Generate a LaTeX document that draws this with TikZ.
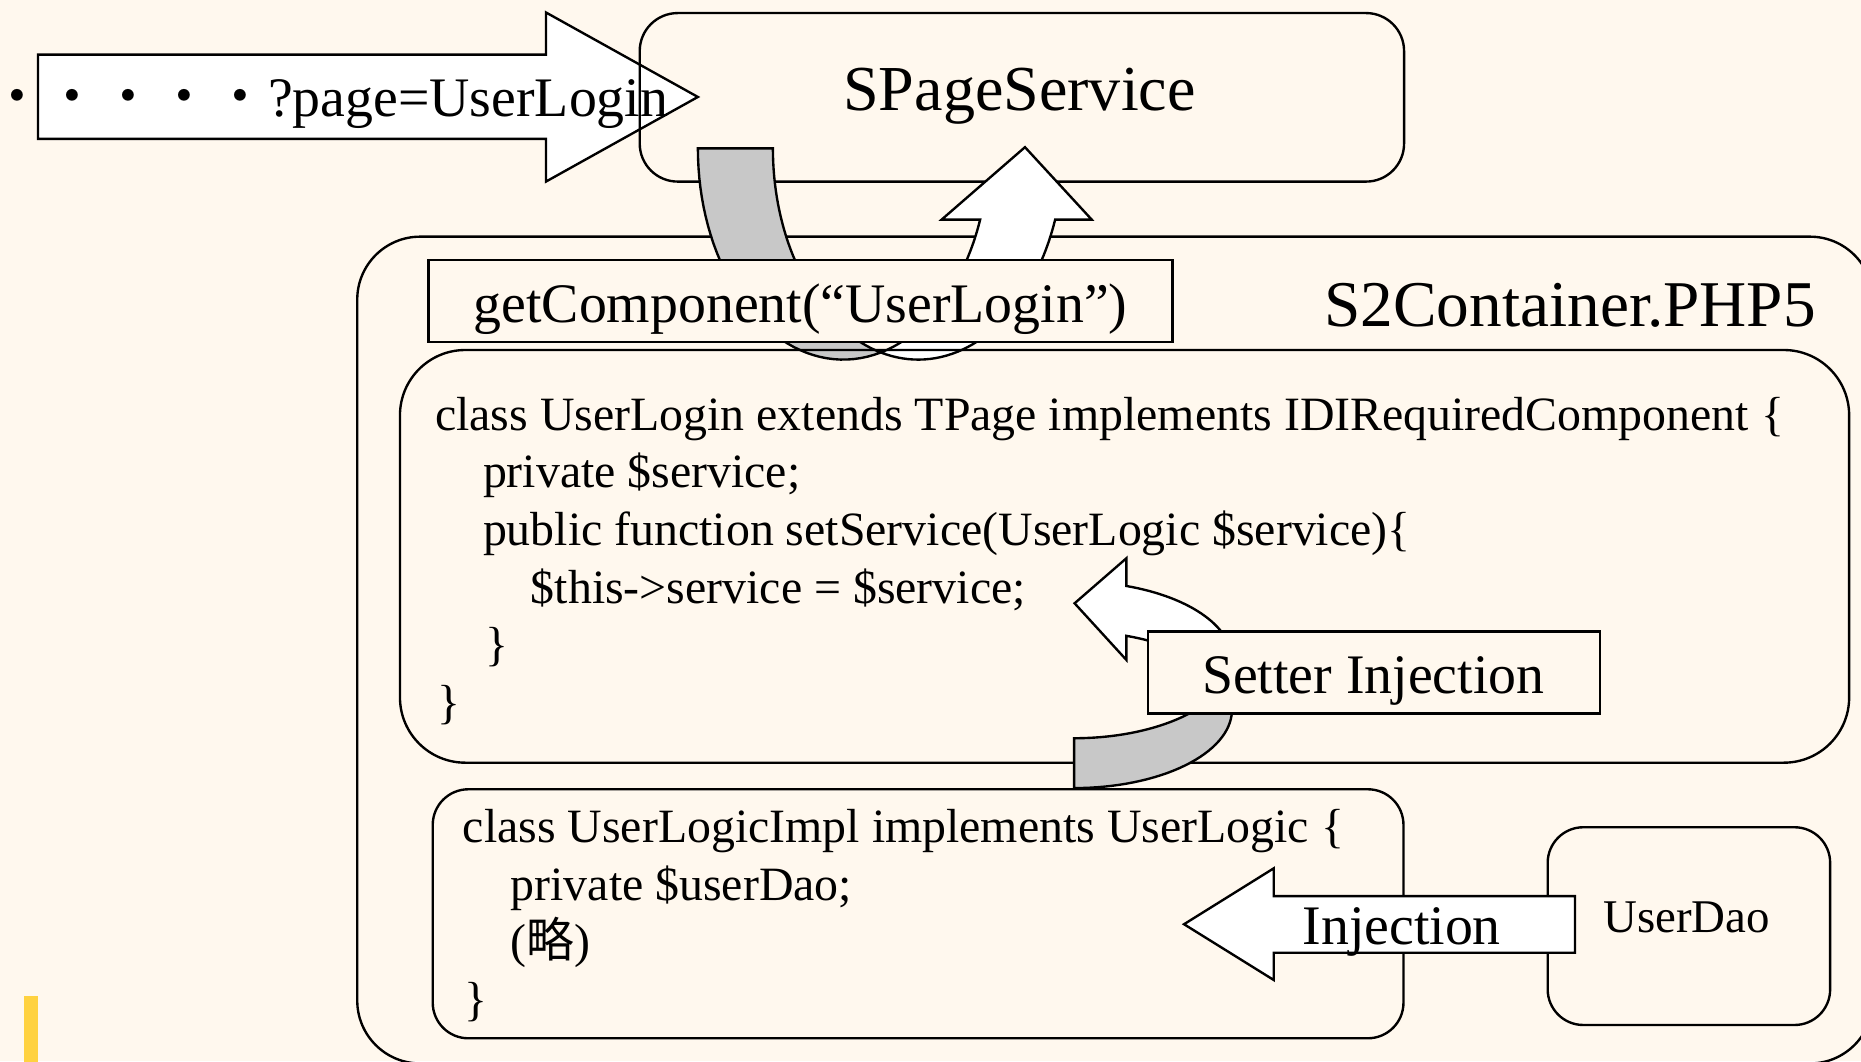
\documentclass[tikz,border=0pt]{standalone}
\usepackage{fontspec}
\setmainfont{Liberation Serif}
\newfontfamily\cjkfont{Noto Sans CJK JP}
\newcommand{\myfs}[1]{\fontsize{#1}{#1}\selectfont}
\definecolor{bgcream}{RGB}{255,248,238}
\definecolor{grayface}{RGB}{200,200,200}
\definecolor{baryellow}{RGB}{255,210,64}
\begin{document}
\begin{tikzpicture}[x=1pt,y=-1pt,
  line width=2pt, line join=miter,
  rbox/.style={draw=black, line width=2pt, inner sep=0pt, rectangle},
  shapeline/.style={draw=black, line width=2pt, line join=miter},
  lbl/.style={inner sep=0pt, anchor=base, text=black},
  code/.style={inner sep=0pt, anchor=base west, text=black, font=\myfs{40.3}}
]
\useasboundingbox (0,0) rectangle (1568,894);
\fill[bgcream] (0,0) rectangle (1568,894);
\fill[fill=baryellow] (20.2,839) rectangle (31.8,900);

% URL block arrow
\draw[shapeline, fill=white] (32,46) -- (460,46) -- (460,10.5) -- (588,81.7)
  -- (460,153) -- (460,117) -- (32,117) -- cycle;
\node[lbl, anchor=base east, font=\myfs{47}] (turl) at (564,98)
  {{\cjkfont ・・・・・}?page=UserLogin};

% boxes (outlines)
\node[rbox, rounded corners=32pt, minimum width=644pt, minimum height=142pt] (sps) at (861,82) {};
\node[lbl, font=\myfs{54}] (tsps) at (859,93) {SPageService};
\node[rbox, rounded corners=53pt, minimum width=1277pt, minimum height=696.6pt] (cont) at (939.5,547.7) {};
\node[rbox, rounded corners=30pt, minimum width=817.9pt, minimum height=209.8pt] (impl) at (773.55,769.9) {};
\node[rbox, rounded corners=30pt, minimum width=238pt, minimum height=166.6pt] (dao) at (1423,780.3) {};

% U-turn arrow (getComponent)
\fill[grayface, draw=black, line width=2pt]
  plot[domain=180:75.05, samples=40] ({710.5+122.5*cos(\x)},{125+178*sin(\x)})
  -- plot[domain=104.95:180, samples=40] ({773.7+122.5*cos(\x)},{125+178*sin(\x)})
  -- cycle;
\fill[white, draw=black, line width=2pt]
  plot[domain=104.95:19.7, samples=40] ({773.7+122.5*cos(\x)},{125+178*sin(\x)})
  -- (919.8,185) -- (863.6,124) -- (793.4,185)
  -- plot[domain=19.7:75.05, samples=40] ({710.5+122.5*cos(\x)},{125+178*sin(\x)})
  -- cycle;

% class UserLogin box
\node[rbox, rounded corners=55pt, minimum width=1221pt, minimum height=347.7pt] (login) at (947.5,468.75) {};

% getComponent box
\node[rbox, fill=bgcream, minimum width=627pt, minimum height=69pt] (gc) at (674.5,253.5) {};
\node[lbl, font=\myfs{47}] (tgc) at (674.5,271.5) {getComponent(“UserLogin”)};
\node[lbl, anchor=base east, font=\myfs{55}] (tcont) at (1531,275.5) {S2Container.PHP5};

% setter injection curved arrow
\fill[grayface, draw=black, line width=2pt]
  plot[domain=90:-18.55, samples=40] ({905+133*cos(\x)},{598+66*sin(\x)})
  -- plot[domain=18.55:90, samples=40] ({905+133*cos(\x)},{556+66*sin(\x)})
  -- cycle;
\fill[white, draw=black, line width=2pt]
  plot[domain=18.55:-70.68, samples=40] ({905+133*cos(\x)},{556+66*sin(\x)})
  -- (949,470.4) -- (905.4,508.3) -- (949,556)
  -- plot[domain=-70.68:-18.55, samples=40] ({905+133*cos(\x)},{598+66*sin(\x)})
  -- cycle;
\node[rbox, fill=bgcream, minimum width=380.7pt, minimum height=68.8pt] (setter) at (1157.55,566.6) {};
\node[lbl, font=\myfs{47}] (tsetter) at (1157,584.5) {Setter Injection};

% Injection arrow
\draw[shapeline, fill=white] (1327,755) -- (1073.2,755) -- (1073.2,731.6) -- (997.6,778.7)
  -- (1073.2,825.7) -- (1073.2,802.7) -- (1327,802.7) -- cycle;
\node[lbl, font=\myfs{47}] (tinj) at (1181,795.5) {Injection};
\node[lbl, font=\myfs{39.5}] (tdao) at (1421,786) {UserDao};

% code of UserLogin
\node[code] (l1) at (365.7,362.3) {class UserLogin extends TPage implements IDIRequiredComponent \{};
\node[code] (l2) at (406,410.9) {private \$service;};
\node[code] (l3) at (406,459.5) {public function setService(UserLogic \$service)\{};
\node[code] (l4) at (446.3,508.1) {\$this->service = \$service;};
\node[code] (l5) at (408,556.7) {\}};
\node[code] (l6) at (367.3,605.3) {\}};

% code of UserLogicImpl
\node[code] (m1) at (389,710) {class UserLogicImpl implements UserLogic \{};
\node[code] (m2) at (429.3,758.5) {private \$userDao;};
\node[code] (m3) at (429.3,807) {({\cjkfont 略})};
\node[code] (m4) at (390.6,855.5) {\}};
\end{tikzpicture}
\end{document}
